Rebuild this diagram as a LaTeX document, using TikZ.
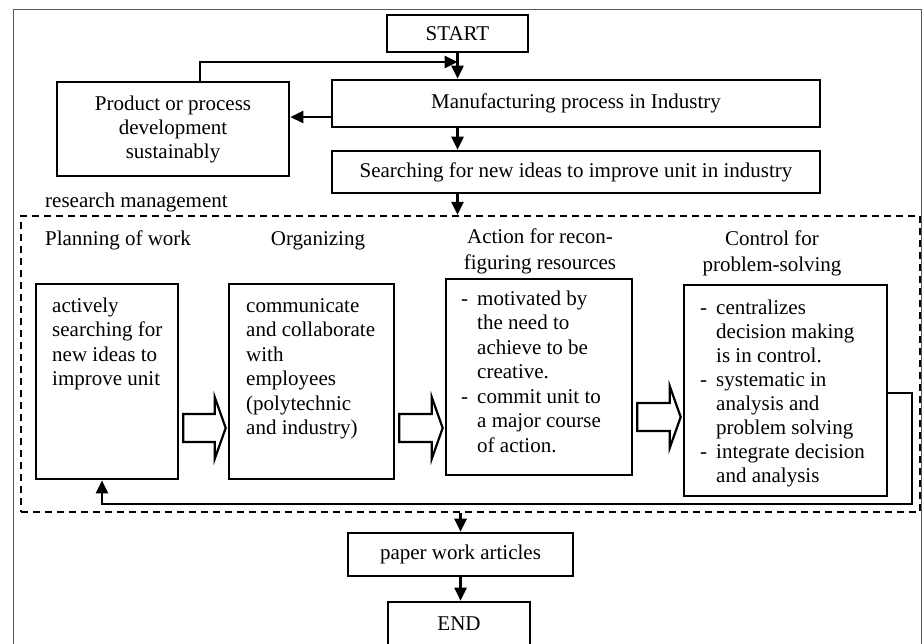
\documentclass[tikz,border=0pt]{standalone}
\usepackage{fontspec}
\setmainfont{Liberation Serif}
\usetikzlibrary{positioning,arrows.meta,calc}

% hollow block arrow from box #1 to box #2, centred at height #3
\newcommand{\blockarrow}[3]{%
  \coordinate (ba) at (0,#3);
  \draw[hollow] ($(#1.east|-ba)+(4,-14)$) -- ($(#2.west|-ba)+(-13,-14)$) -- ++(0,-17)
    -- ($(#2.west|-ba)+(-2,0)$) -- ($(#2.west|-ba)+(-13,31)$) -- ++(0,-17)
    -- ($(#1.east|-ba)+(4,14)$) -- cycle;}

\begin{document}
\begin{tikzpicture}[x=1pt,y=-1pt,
  every node/.style={font=\fontsize{21}{24.5}\selectfont},
  box/.style={draw,line width=2.6pt,inner sep=0pt,align=center},
  note/.style={inner sep=0pt,align=left,anchor=north west},
  head/.style={inner sep=0pt,align=center,anchor=north,font=\fontsize{21}{26.5}\selectfont},
  conn/.style={line width=2.6pt,-{Triangle[length=13pt,width=12pt]}},
  hollow/.style={draw,line width=2.2pt,fill=white,line join=miter},
  ]
  \useasboundingbox (0,0) rectangle (923,643);
  \clip (0,0) rectangle (923,643);
  % ---- outer frame ----
  \draw[line width=1pt,black!65] (13,660) |- (921,9) -- (921,660);

  % ---- manufacturing part ----
  \node[box,minimum width=141,minimum height=37] (start) at (457.5,33.5) {START};
  \node[box,minimum width=488,minimum height=47] (manuf) at (576,103.5) {Manufacturing process in Industry};
  \node[box,minimum width=232,minimum height=94,font=\fontsize{21}{24}\selectfont] (prod) at (173,129)
       {Product or process\\development\\sustainably};
  \node[box,minimum width=488,minimum height=42] (search) at (576,172) {Searching for new ideas to improve unit in industry};

  \coordinate (loop) at (200,62);
  \coordinate (side) at (0,117);
  \draw[conn] (prod.north-|loop) -- (loop) -- (loop-|start.south);
  \draw[conn] (start.south) -- (start.south|-manuf.north);
  \draw[conn] (manuf.west|-side) -- (prod.east|-side);
  \draw[conn] (manuf.south-|start.south) -- (search.north-|start.south);

  % ---- research management ----
  \node[anchor=base west,inner sep=0pt] (rmlabel) at (45,207) {research management};
  \node[draw,line width=2.3pt,dash pattern=on 7pt off 5pt,minimum width=899,minimum height=296,inner sep=0pt]
       (rm) at (470.5,364) {};
  \draw[conn] (search.south-|start.south) -- (rm.north-|start.south);

  \node[head] (hplan) at (118,226.5) {\strut Planning of work};
  \node[head] (horg)  at (318,226.5) {\strut Organizing};
  \node[head] (hact)  at (540,224.5) {\strut Action for recon-\\figuring resources};
  \node[head] (hctrl) at (772,226.5) {\strut Control for\\problem-solving};

  \node[box,minimum width=142,minimum height=195] (plan) at (107,381.5) {};
  \node[box,minimum width=165,minimum height=195] (org)  at (311.5,381.5) {};
  \node[box,minimum width=186,minimum height=196] (act)  at (539,377) {};
  \node[box,minimum width=203,minimum height=211] (ctrl) at (785.5,390.5) {};

  \node[note] at (52,295) {\strut actively\\searching for\\new ideas to\\improve unit};
  \node[note] at (246,295) {\strut communicate\\and collaborate\\with\\employees\\(polytechnic\\and industry)};
  \node[note] at (461,288) {\strut\makebox[16pt][l]{-}motivated by\\\hspace*{16pt}the need to\\
       \hspace*{16pt}achieve to be\\\hspace*{16pt}creative.\\\makebox[16pt][l]{-}commit unit to\\
       \hspace*{16pt}a major course\\\hspace*{16pt}of action.};
  \node[note,font=\fontsize{21}{23.9}\selectfont] at (700,298) {\strut\makebox[16pt][l]{-}centralizes\\
       \hspace*{16pt}decision making\\\hspace*{16pt}is in control.\\\makebox[16pt][l]{-}systematic in\\
       \hspace*{16pt}analysis and\\\hspace*{16pt}problem solving\\\makebox[16pt][l]{-}integrate decision\\
       \hspace*{16pt}and analysis};

  \blockarrow{plan}{org}{428}
  \blockarrow{org}{act}{428}
  \blockarrow{act}{ctrl}{417}

  % feedback from control back to planning
  \coordinate (fbr) at (912,393);
  \coordinate (fbb) at (102,504);
  \draw[conn] (ctrl.east|-fbr) -- (fbr) |- (fbb) -- (plan.south-|fbb);

  % ---- output ----
  \node[box,minimum width=225,minimum height=43] (paper) at (460.5,554.5) {paper work articles};
  \node[box,minimum width=142,minimum height=44] (finish) at (459,624) {END};
  \draw[conn] (rm.south-|paper.north) -- (paper.north);
  \draw[conn] (paper.south) -- (paper.south|-finish.north);
\end{tikzpicture}
\end{document}
